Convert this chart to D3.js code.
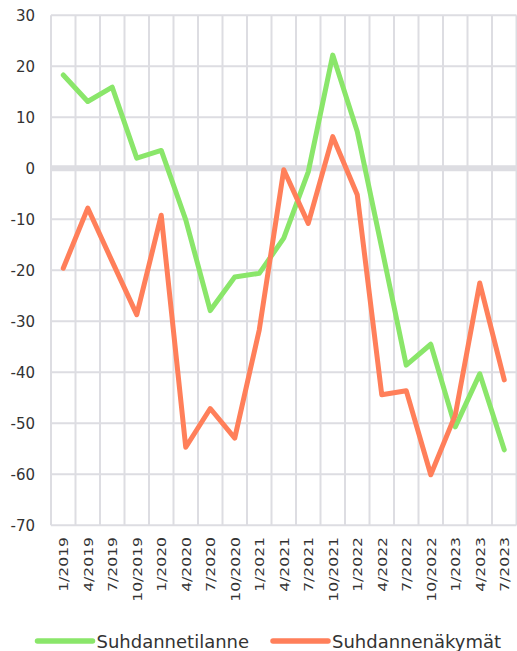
<!DOCTYPE html>
<html>
<head>
<meta charset="utf-8">
<script src="https://cdn.jsdelivr.net/npm/d3@7"></script>
<style>
  body { margin: 0; background: #fff; }
  svg { display: block; font-family: "DejaVu Sans", Verdana, sans-serif; }
</style>
</head>
<body>
<svg id="chart" width="517" height="651"></svg>
<script>
const categories = ["1/2019","4/2019","7/2019","10/2019","1/2020","4/2020","7/2020","10/2020",
  "1/2021","4/2021","7/2021","10/2021","1/2022","4/2022","7/2022","10/2022","1/2023","4/2023","7/2023"];
const suhdannetilanne = [18.3, 13.1, 15.9, 2.0, 3.5, -10.1, -27.9, -21.3, -20.6, -13.7, -0.7, 22.2, 7.2, -15.6, -38.6, -34.5, -50.7, -40.3, -55.2];
const suhdannenakymat = [-19.6, -7.8, -18.3, -28.7, -9.2, -54.7, -47.1, -52.9, -31.7, -0.3, -10.8, 6.2, -5.2, -44.4, -43.6, -60.1, -48.4, -22.5, -41.5];
const yTicks = [30, 20, 10, 0, -10, -20, -30, -40, -50, -60, -70];
const seriesNames = ["Suhdannetilanne", "Suhdannenäkymät"];
const seriesColors = ["#8ae66a", "#ff7f5a"];

const svg = d3.select("#chart");
const pLeft = 51, pRight = 516.5, pTop = 15.3, pBottom = 525.3;

const x = d3.scaleBand().domain(categories).range([pLeft, pRight]).padding(0);
const y = d3.scaleLinear().domain([-70, 30]).range([pBottom, pTop]);

const grid = svg.append("g");
const bounds = categories.map(c => x(c)).concat([pRight]);
grid.selectAll("line.v").data(bounds).enter().append("line")
  .attr("x1", d => d).attr("x2", d => d)
  .attr("y1", pTop).attr("y2", pBottom)
  .attr("stroke", "#dddde2").attr("stroke-width", 2);
grid.selectAll("line.h").data(yTicks).enter().append("line")
  .attr("x1", pLeft).attr("x2", pRight)
  .attr("y1", d => y(d)).attr("y2", d => y(d))
  .attr("stroke", "#dddde2")
  .attr("stroke-width", d => d === 0 ? 6 : 2);

const yAxis = d3.axisLeft(y).tickValues(yTicks).tickSize(0).tickPadding(16)
  .tickFormat(d => String(d));
const ya = svg.append("g").attr("transform", `translate(${pLeft},0)`).call(yAxis);
ya.select(".domain").remove();
ya.selectAll("text").attr("font-size", 15).attr("fill", "#333")
  .attr("font-family", "DejaVu Sans, Verdana, sans-serif");

const xa = svg.append("g");
xa.selectAll("text").data(categories).enter().append("text")
  .attr("transform", d => `translate(${x(d) + x.bandwidth()/2 + 4.8},537) rotate(-90) scale(1.2,1)`)
  .attr("text-anchor", "end")
  .attr("font-size", 13)
  .attr("fill", "#333")
  .text(d => d);

const line = d3.line()
  .x((d, i) => x(categories[i]) + x.bandwidth()/2)
  .y(d => y(d));
[suhdannetilanne, suhdannenakymat].forEach((s, k) => {
  svg.append("path").datum(s)
    .attr("d", line)
    .attr("fill", "none")
    .attr("stroke", seriesColors[k])
    .attr("stroke-width", 5)
    .attr("stroke-linejoin", "round")
    .attr("stroke-linecap", "round");
});

const legendX = [37.5, 273];
seriesNames.forEach((n, k) => {
  const g = svg.append("g");
  g.append("line")
    .attr("x1", legendX[k]).attr("x2", legendX[k] + 55)
    .attr("y1", 641).attr("y2", 641)
    .attr("stroke", seriesColors[k]).attr("stroke-width", 5.5)
    .attr("stroke-linecap", "round");
  g.append("text")
    .attr("x", legendX[k] + 59).attr("y", 647.5)
    .attr("font-size", 18).attr("fill", "#333")
    .text(n);
});
</script>
</body>
</html>
